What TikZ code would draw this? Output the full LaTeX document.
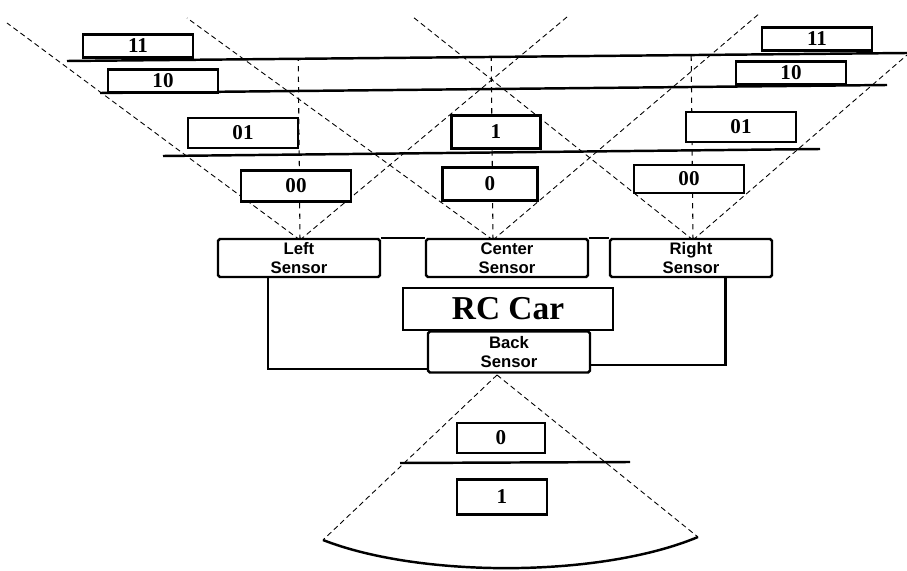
\documentclass[tikz,border=0pt]{standalone}
\usepackage{fontspec}
\setmainfont{Liberation Serif}
\setsansfont{Liberation Sans}
\usetikzlibrary{backgrounds,calc}
\tikzset{
  zonebox/.style ={draw,line width=1.6pt,fill=white,inner sep=0pt,
                    font=\bfseries\fontsize{12}{14}\selectfont,
                    minimum width=2.2cm,minimum height=0.46cm},
  sensbox/.style ={draw,line width=1.4pt,rounded corners=1pt,fill=white,align=center,
                    font=\sffamily\bfseries\fontsize{9.5}{11}\selectfont,inner sep=1pt,
                    minimum width=3.24cm,minimum height=0.76cm},
  carbox/.style  ={draw,line width=1.4pt,fill=white,inner sep=0pt,
                    font=\bfseries\fontsize{19}{22}\selectfont,
                    minimum width=4.2cm,minimum height=0.84cm},
  bound/.style   ={line width=1.4pt},
  wire/.style    ={line width=1.2pt},
  beam/.style    ={densely dashed,line width=0.5pt},
  axisline/.style={dashed,line width=0.6pt},
}
\begin{document}
\begin{tikzpicture}[x=0.02cm,y=-0.02cm]
\useasboundingbox (0,0) rectangle (907,571);
% ---- front zones: left / center / right ----
\node[zonebox]                      (l11) at (138,46)  {11};
\node[zonebox]                      (l10) at (163,81)  {10};
\node[zonebox,minimum height=0.6cm] (l01) at (243,133) {01};
\node[zonebox,minimum height=0.62cm](l00) at (296,186) {00};
\node[zonebox,minimum width=1.78cm,minimum height=0.66cm] (c1) at (496,132) {1};
\node[zonebox,minimum width=1.9cm,minimum height=0.66cm]  (c0) at (490,184) {0};
\node[zonebox]                      (r11) at (817,39)  {11};
\node[zonebox]                      (r10) at (791,73)  {10};
\node[zonebox,minimum height=0.6cm] (r01) at (741,127) {01};
\node[zonebox,minimum height=0.56cm](r00) at (689,179) {00};
% ---- car and sensors ----
\node[sensbox] (lsens) at (299,258) {Left\\Sensor};
\node[sensbox] (csens) at (507,258) {Center\\Sensor};
\node[sensbox] (rsens) at (691,258) {Right\\Sensor};
\node[carbox]  (car)   at (508,309) {RC Car};
\node[sensbox,minimum height=0.82cm] (bsens) at (509,352) {Back\\Sensor};
% ---- back zones ----
\node[zonebox,minimum width=1.76cm,minimum height=0.6cm] (b0) at (501,438) {0};
\node[zonebox,minimum width=1.8cm,minimum height=0.7cm]  (b1) at (502,497) {1};
% ---- wiring ----
\draw[wire] (lsens.north east) -- (csens.north west);
\draw[wire] (csens.north east) -- (rsens.north west);
\draw[wire] ($(lsens.south west)!0.31!(lsens.south east)$) |- ($(bsens.south west)!0.1!(bsens.north west)$);
\draw[wire] ($(rsens.south west)!0.71!(rsens.south east)$) |- ($(bsens.south east)!0.2!(bsens.north east)$);
% ---- beams, zone borders ----
\coordinate (lv) at (300,240);  \coordinate (lvL) at (7,23);    \coordinate (lvR) at (567,17);
\coordinate (cv) at (493,240);  \coordinate (cvL) at (187,18);  \coordinate (cvR) at (760,13);
\coordinate (rv) at (693,240);  \coordinate (rvL) at (413,17);  \coordinate (rvR) at (907,55);
\coordinate (bv) at (497,375);  \coordinate (bvL) at (323,540); \coordinate (bvR) at (698,537);
\coordinate (z1a) at (67,61);   \coordinate (z1b) at (907,53);
\coordinate (z2a) at (100,93);  \coordinate (z2b) at (887,85);
\coordinate (z3a) at (163,156); \coordinate (z3b) at (820,149);
\coordinate (zba) at (400,463); \coordinate (zbb) at (630,462);
\begin{scope}[on background layer]
\foreach \a/\b in {lv/lvL,lv/lvR,cv/cvL,cv/cvR,rv/rvL,rv/rvR,bv/bvL,bv/bvR}
  \draw[beam] (\a) -- (\b);
\foreach \v in {lv,cv,rv}
  \draw[axisline] (\v) -- ($(z1a)!(\v)!(z1b)$);
\foreach \a/\b in {z1a/z1b,z2a/z2b,z3a/z3b,zba/zbb}
  \draw[bound] (\a) -- (\b);
\draw[bound] (bvL) .. controls (420,578) and (600,578) .. (bvR);
\end{scope}
\end{tikzpicture}
\end{document}
